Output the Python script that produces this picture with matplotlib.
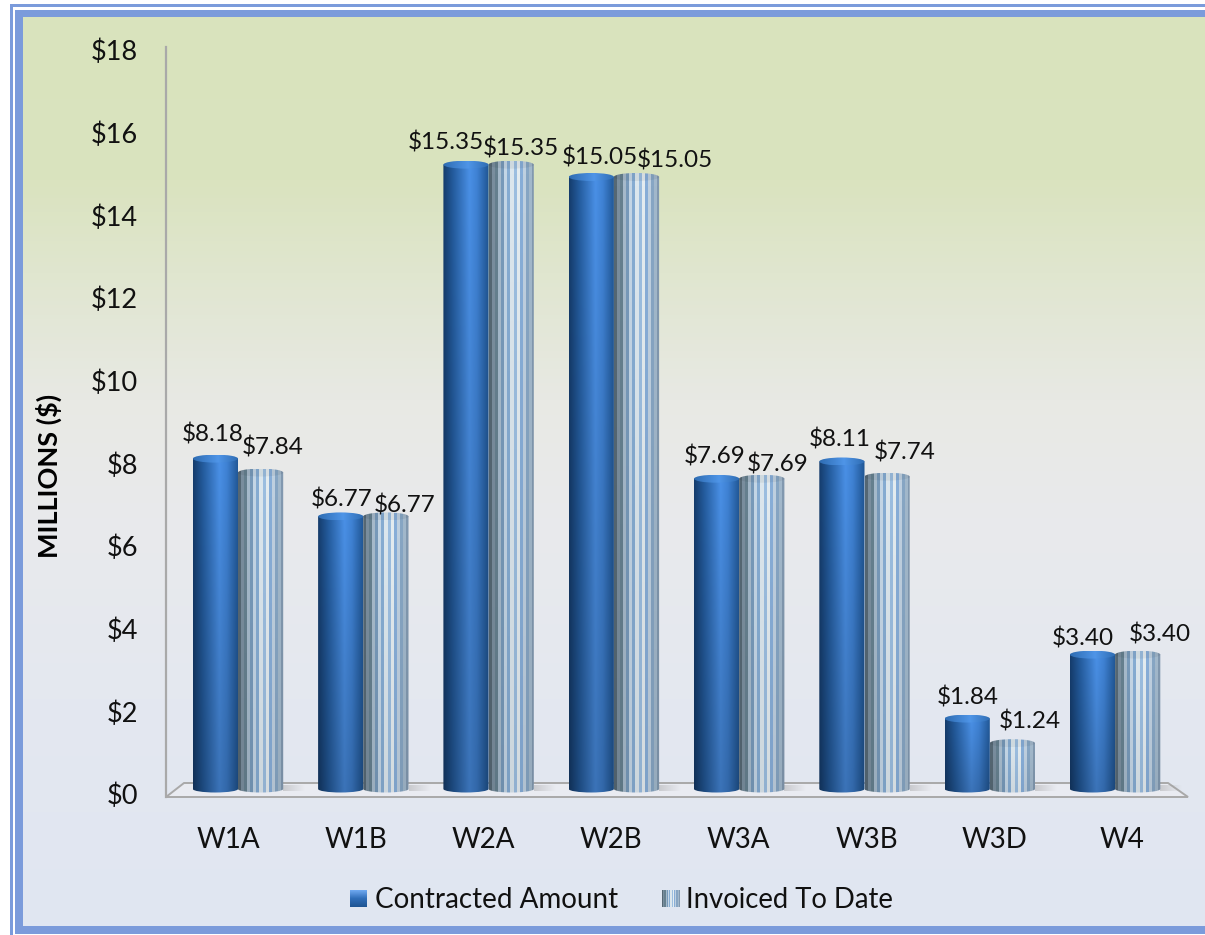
import numpy as np
import matplotlib
matplotlib.use("Agg")
import matplotlib.pyplot as plt
from matplotlib.colors import LinearSegmentedColormap, to_rgb
from matplotlib.patches import Rectangle, Ellipse, Polygon, PathPatch
from matplotlib.path import Path

categories = ["W1A", "W1B", "W2A", "W2B", "W3A", "W3B", "W3D", "W4"]
contracted = [8.18, 6.77, 15.35, 15.05, 7.69, 8.11, 1.84, 3.40]
invoiced = [7.84, 6.77, 15.35, 15.05, 7.69, 7.74, 1.24, 3.40]
y_ticks = [0, 2, 4, 6, 8, 10, 12, 14, 16, 18]
series_names = ["Contracted Amount", "Invoiced To Date"]

# label offsets from the bar top, in pixels (manual placement in the original)
off_c = [(-3, 24), (1, 17), (-20, 22), (9, 19), (-2, 22), (-2, 22), (1, 21), (-10, 16)]
off_i = [(12, 25), (19, 11), (10, 16), (38, 16), (16, 14), (18, 24), (17, 22), (22, 20)]

W, H = 1205, 935
DPI = 100
plt.rcParams["font.family"] = ["Lato", "DejaVu Sans"]
TXT = "#111111"
fig = plt.figure(figsize=(W / DPI, H / DPI), dpi=DPI, facecolor="white")


def px_rect(x0, y0, x1, y1):
    return [x0 / W, 1 - y1 / H, (x1 - x0) / W, (y1 - y0) / H]


# background gradient
bg = fig.add_axes(px_rect(0, 0, W, H), zorder=0)
stops = [(0.00, "#D9E3BD"), (0.18, "#DAE3BF"), (0.28, "#E0E6CF"), (0.42, "#E8E9E4"),
         (0.55, "#E9EAEC"), (0.75, "#E4E8F0"), (1.00, "#E0E6F2")]
cm = LinearSegmentedColormap.from_list("bg", stops)
bg.imshow(np.linspace(0, 1, 256)[:, None], cmap=cm, aspect="auto",
          extent=(23, W, 926, 17), zorder=0)
bg.set_xlim(0, W); bg.set_ylim(H, 0); bg.axis("off")
FRAME = "#7B9BDB"
for (x, y, w, h) in [(10, 4, W - 10, 3), (10, 4, 3, H - 4),
                     (15, 10, W - 15, 7), (15, 10, 8, 924), (15, 926, W - 15, 8)]:
    bg.add_patch(Rectangle((x, y), w, h, fc=FRAME, ec="none", zorder=1))

# floor and wall
FLOOR = "#A9A9A9"
bg.add_patch(Polygon([(166, 797), (184, 783), (1168, 783), (1188, 797)], closed=True,
                     fc="#E9EBF1", ec=FLOOR, lw=1.4, zorder=2))
bg.plot([166, 166], [47, 797], color=FLOOR, lw=1.6, zorder=2)

# main bars axes: category unit 125.3 px; value unit 41 px, zero at y=794
ax = fig.add_axes(px_rect(166, 47, 1188, 797), zorder=3)
ax.patch.set_alpha(0)
ax.set_xticks([])
ax.set_yticks([])
for s in ax.spines.values():
    s.set_visible(False)

# value and category labels sit on the chart's front plane, on slightly wider scales
ax2 = fig.add_axes(px_rect(166, 50, 1188, 794), zorder=2)
ax2.patch.set_alpha(0)
ax2.set_ylim(0, 18)
ax2.set_xlim((166 - 228) / 127.7, (1188 - 228) / 127.7)
ax2.set_xticks(range(len(categories)))
ax2.set_xticklabels(categories, fontsize=20, color=TXT)
ax2.tick_params(axis="x", length=0, pad=24)
ax2.set_yticks(y_ticks)
ax2.set_yticklabels([f"${v}" for v in y_ticks], fontsize=19.5, color=TXT)
ax2.tick_params(axis="y", length=0, pad=20)
for s in ax2.spines.values():
    s.set_visible(False)
fig.text(49 / W, 1 - 476 / H, "MILLIONS ($)", rotation=90, fontsize=19.5, fontweight="bold",
         ha="center", va="center", color="#000000")

BW = 45.2 / 125.3
EH = 8 / 41
BASE = 5 / 41
DROP = 3 / 41
col = np.linspace(0, 1, 128)
blue_cm = LinearSegmentedColormap.from_list(
    "cyl", [(0, "#153C6C"), (0.22, "#245C9E"), (0.58, "#4A90E6"), (0.74, "#3F82D4"), (1, "#1F5593")])
blue_top = LinearSegmentedColormap.from_list(
    "cyltop", [(0, "#2E6CB2"), (0.55, "#4F95E8"), (1, "#2E6CB2")])
stripe_cols = ["#566874", "#7A8E9E", "#66808F", "#A6BACB", "#789ABA", "#C4D6E6", "#86ACD2",
               "#DCE7EE", "#9CBEE0", "#E4ECF0", "#88AED8", "#BFD0E0", "#87A6C4", "#A2B8CB", "#8299B0"]
stripe_img = np.array([[to_rgb(c) for c in stripe_cols]])
# body shading: the colour column dims toward the foot of each cylinder
fade = np.linspace(1.0, 0.8, 64)[:, None, None]
blue_img = fade * blue_cm(col)[None, :, :3]
stripe_body = np.linspace(1.0, 0.93, 64)[:, None, None] * stripe_img


def cyl_path(x0, x1, v):
    xc, rx = (x0 + x1) / 2, (x1 - x0) / 2
    k = 0.5523
    verts = [(x0, v), (x0, BASE), (x0, BASE - k * (BASE - DROP / 2)), (xc - k * rx, DROP / 2),
             (xc, DROP / 2), (xc + k * rx, DROP / 2), (x1, BASE - k * (BASE - DROP / 2)),
             (x1, BASE), (x1, v), (x0, v)]
    codes = [Path.MOVETO, Path.LINETO, Path.CURVE4, Path.CURVE4, Path.CURVE4,
             Path.CURVE4, Path.CURVE4, Path.CURVE4, Path.LINETO, Path.CLOSEPOLY]
    return Path(verts, codes)


def cylinder(x0, x1, v, kind):
    if kind == "c":
        img, interp = blue_img, "bilinear"
        top_img = blue_top(col)[None, :, :3]
    else:
        img, interp = stripe_body, "nearest"
        top_img = stripe_img * 0.94
    im = ax.imshow(img, aspect="auto", extent=(x0, x1, 0, v), zorder=5, interpolation=interp)
    p = PathPatch(cyl_path(x0, x1, v), transform=ax.transData, fc="none", ec="none")
    ax.add_patch(p)
    im.set_clip_path(p)
    t = ax.imshow(top_img, aspect="auto", extent=(x0, x1, v - EH / 2, v + EH / 2),
                  zorder=6, interpolation=interp)
    e = Ellipse(((x0 + x1) / 2, v), x1 - x0, EH, transform=ax.transData, fc="none", ec="none")
    ax.add_patch(e)
    t.set_clip_path(e)


shadow = np.zeros((1, 64, 4))
shadow[..., :3] = 0.6
shadow[..., 3] = np.linspace(0.4, 0, 64)

for i, (c, v) in enumerate(zip(contracted, invoiced)):
    cylinder(i - BW, i, c, "c")
    cylinder(i, i + BW, v, "i")
    ax.imshow(shadow, aspect="auto", extent=(i + BW, i + BW + 0.17, 0.08, 0.22),
              zorder=4, interpolation="bilinear")
    ax.annotate(f"${c:.2f}", xy=(i - BW / 2, c), xytext=off_c[i], textcoords="offset pixels",
                ha="center", va="center", fontsize=17.5, color=TXT, zorder=8,
                annotation_clip=False)
    ax.annotate(f"${v:.2f}", xy=(i + BW / 2, v), xytext=off_i[i], textcoords="offset pixels",
                ha="center", va="center", fontsize=17.5, color=TXT, zorder=8,
                annotation_clip=False)
ax.set_xlim((166 - 238) / 125.3, (1188 - 238) / 125.3)
ax.set_ylim(-3 / 41, (794 - 47) / 41)

# legend
lg = fig.add_axes(px_rect(0, 0, W, H), zorder=4)
lg.axis("off"); lg.patch.set_alpha(0)
lg.imshow(np.linspace(0, 1, 32)[:, None], cmap=LinearSegmentedColormap.from_list(
    "k", ["#6FA8F0", "#2F6DB8", "#1F5593"]), aspect="auto", extent=(350, 367, 907, 890))
lg.imshow(stripe_img, aspect="auto", extent=(662, 680, 907, 890), interpolation="nearest")
lg.set_xlim(0, W); lg.set_ylim(H, 0)
lg.text(375, 899.5, series_names[0], fontsize=20, color=TXT, va="center", ha="left")
lg.text(686, 899.5, series_names[1], fontsize=19.8, color=TXT, va="center", ha="left")

fig.savefig("out.png", dpi=DPI)
